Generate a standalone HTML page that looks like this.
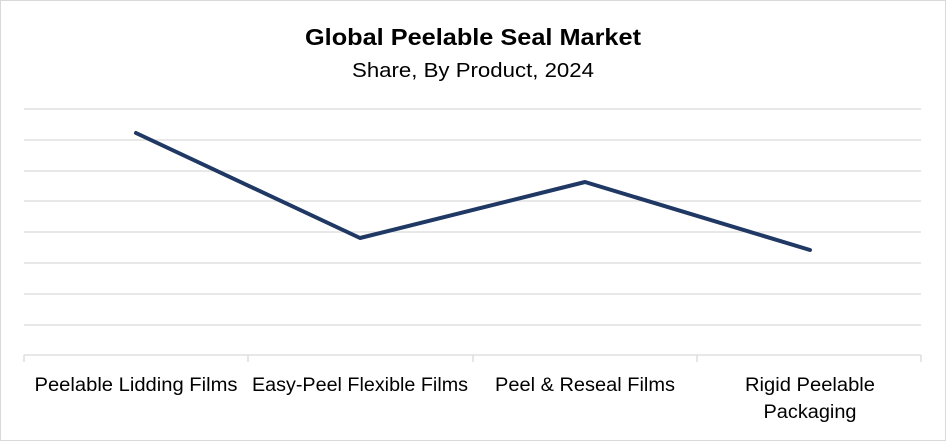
<!DOCTYPE html>
<html><head><style>
body{margin:0;background:#fff}
svg{display:block}
text{font-family:"Liberation Sans",Arial,sans-serif;fill:#000}
</style></head><body>
<svg width="946" height="441" viewBox="0 0 946 441">
<rect x="0.5" y="0.5" width="945" height="440" fill="#fff" stroke="#d9d9d9"/>
<text x="473" y="45" text-anchor="middle" font-size="23" font-weight="bold" textLength="336" lengthAdjust="spacingAndGlyphs">Global Peelable Seal Market</text>
<text x="473" y="77" text-anchor="middle" font-size="20" textLength="242" lengthAdjust="spacingAndGlyphs">Share, By Product, 2024</text>
<g stroke="#d9d9d9" stroke-width="1.3">
<line x1="24" x2="921" y1="109" y2="109"/>
<line x1="24" x2="921" y1="140" y2="140"/>
<line x1="24" x2="921" y1="171" y2="171"/>
<line x1="24" x2="921" y1="201" y2="201"/>
<line x1="24" x2="921" y1="232" y2="232"/>
<line x1="24" x2="921" y1="263" y2="263"/>
<line x1="24" x2="921" y1="294" y2="294"/>
<line x1="24" x2="921" y1="325" y2="325"/>
<line x1="24" x2="921" y1="355" y2="355"/>
<line x1="24" x2="24" y1="355" y2="362"/>
<line x1="248" x2="248" y1="355" y2="362"/>
<line x1="473" x2="473" y1="355" y2="362"/>
<line x1="697" x2="697" y1="355" y2="362"/>
<line x1="921" x2="921" y1="355" y2="362"/>
</g>
<polyline points="136,133 360,238 585,182 810,250" fill="none" stroke="#203864" stroke-width="4" stroke-linejoin="round" stroke-linecap="round"/>
<g font-size="19" text-anchor="middle">
<text x="136" y="391" textLength="203" lengthAdjust="spacingAndGlyphs">Peelable Lidding Films</text>
<text x="360" y="391" textLength="216" lengthAdjust="spacingAndGlyphs">Easy-Peel Flexible Films</text>
<text x="585" y="391" textLength="180" lengthAdjust="spacingAndGlyphs">Peel &amp; Reseal Films</text>
<text x="810" y="391" textLength="130" lengthAdjust="spacingAndGlyphs">Rigid Peelable</text>
<text x="810" y="418" textLength="93" lengthAdjust="spacingAndGlyphs">Packaging</text>
</g>
</svg>
</body></html>
